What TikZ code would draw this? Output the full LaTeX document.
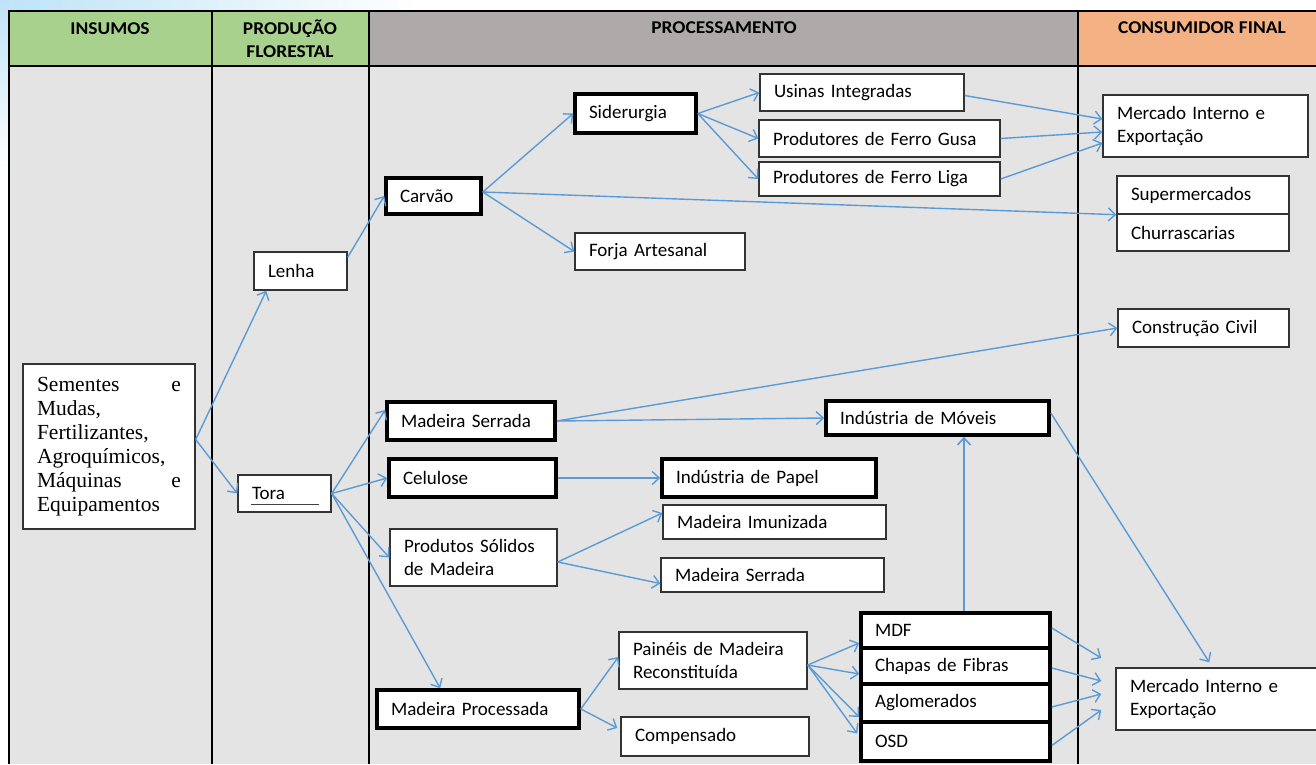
\documentclass[tikz,border=0pt]{standalone}
\usepackage{fontspec}
\setmainfont{Carlito}
\newfontfamily\tnr{Liberation Serif}
\newfontfamily\hdrfont[FakeStretch=1.08]{Carlito}
\usetikzlibrary{arrows.meta}
\definecolor{hdrgreen}{HTML}{A9D18E}
\definecolor{hdrgray}{HTML}{AEAAAA}
\definecolor{hdrorange}{HTML}{F4B183}
\definecolor{bodygray}{HTML}{E4E4E4}
\definecolor{arrblue}{HTML}{5B9BD5}
\definecolor{skyblue}{HTML}{BEE3F8}

% box: name, style, x1, y1, x2, y2, text (coordinates in px, y downwards)
\newcommand{\bx}[7]{%
  \pgfmathsetmacro\bxw{#5-#3}%
  \pgfmathsetmacro\bxh{#6-#4}%
  \pgfmathsetmacro\bxcx{(#3+#5)/2}%
  \pgfmathsetmacro\bxcy{(#4+#6)/2}%
  \pgfmathsetmacro\bxtw{#5-#3-28}%
  \node[#2, minimum width=\bxw pt, minimum height=\bxh pt, text width=\bxtw pt] (#1) at (\bxcx,\bxcy) {#7};}

\begin{document}
\begin{tikzpicture}[x=1pt,y=-1pt,
  every node/.style={font=\fontsize{19}{23.5}\selectfont},
  thinbox/.style={draw=black!80, line width=1.4pt, fill=white, inner xsep=14pt, inner ysep=0pt, align=left},
  thickbox/.style={thinbox, draw=black, line width=3.6pt},
  serifbox/.style={thinbox, font=\tnr\fontsize{21.5}{24}\selectfont},
  hdr/.style={font=\hdrfont\bfseries\fontsize{18}{21}\selectfont, inner sep=0pt, anchor=base},
  rule/.style={draw=black, line width=1.9pt},
  arr/.style={draw=arrblue, line width=1.4pt, -{Straight Barb[length=7pt,width=13pt]}}]

\useasboundingbox (0,0) rectangle (1316,764);
\clip (0,0) rectangle (1316,764);

% backdrop
\fill[white] (0,0) rectangle (1316,764);
\shade[left color=skyblue, right color=white] (0,0) rectangle (420,11);
\shade[top color=skyblue, bottom color=white] (0,0) rectangle (9,170);

% table
\fill[hdrgreen] (9,11) rectangle (369,66);
\fill[hdrgray] (369,11) rectangle (1078,66);
\fill[hdrorange] (1078,11) rectangle (1316,66);
\fill[bodygray] (9,66) rectangle (1316,764);
\draw[rule] (8,11) -- (1316,11);
\draw[rule] (9,66) -- (1316,66);
\foreach \cx in {9,212,369,1078} \draw[rule] (\cx,11) -- (\cx,764);

% column headings
\node[hdr] (hIns) at (110,34) {INSUMOS};
\node[hdr] (hProdA) at (290,34) {PRODUÇÃO};
\node[hdr] (hProdB) at (290,57) {FLORESTAL};
\node[hdr] (hProc) at (724,33) {PROCESSAMENTO};
\node[hdr] (hCons) at (1202,33) {CONSUMIDOR FINAL};

% inputs and forest production
\bx{sem}{serifbox}{23}{364}{195}{529}{Sementes\hfill e\\Mudas,\\Fertilizantes,\\Agroquímicos,\\Máquinas\hfill e\\Equipamentos}
\bx{lenha}{thinbox}{254}{252}{347}{290}{Lenha}
\bx{tora}{thinbox}{238}{475}{331}{512}{Tora}
\draw[line width=0.9pt, black!75] ([xshift=14pt,yshift=8.5pt]tora.south west) -- ([xshift=-13pt,yshift=8.5pt]tora.south east);

% processing
\bx{carvao}{thickbox}{386}{178}{481}{214}{Carvão}
\bx{sider}{thickbox}{575}{94}{696}{133}{Siderurgia}
\bx{usinas}{thinbox}{760}{74}{964}{111}{Usinas Integradas}
\bx{gusa}{thinbox}{759}{120}{1000}{157}{Produtores de Ferro Gusa}
\bx{liga}{thinbox}{759}{162}{1000}{196}{Produtores de Ferro Liga}
\bx{forja}{thinbox}{575}{233}{745}{270}{Forja Artesanal}
\bx{mserr}{thickbox}{387}{402}{555}{440}{Madeira Serrada}
\bx{moveis}{thickbox}{826}{401}{1049}{435}{Indústria de Móveis}
\bx{celul}{thickbox}{389}{459}{556}{497}{Celulose}
\bx{papel}{thickbox}{662}{459}{876}{497}{Indústria de Papel}
\bx{imun}{thinbox}{663}{505}{886}{539}{Madeira Imunizada}
\bx{mserr2}{thinbox}{661}{558}{884}{592}{Madeira Serrada}
\bx{prods}{thinbox}{390}{529}{557}{586}{Produtos Sólidos\\de Madeira}
\bx{mproc}{thickbox}{377}{690}{579}{728}{Madeira Processada}
\bx{paineis}{thinbox}{619}{632}{807}{689}{Painéis de Madeira\\Reconstituída}
\bx{comp}{thinbox}{621}{717}{809}{756}{Compensado}
\bx{mdf}{thickbox}{861}{613}{1050}{648}{MDF}
\bx{chapas}{thickbox}{861}{648}{1050}{684}{Chapas de Fibras}
\bx{aglom}{thickbox}{861}{684}{1050}{722}{Aglomerados}
\bx{osd}{thickbox}{861}{722}{1050}{761}{OSD}

% final consumers
\bx{merc1}{thinbox}{1103}{95}{1308}{157}{Mercado Interno e\\Exportação}
\bx{super}{thinbox}{1117}{176}{1289}{214}{Supermercados}
\bx{churr}{thinbox}{1117}{214}{1289}{251}{Churrascarias}
\bx{constr}{thinbox}{1118}{309}{1289}{347}{Construção Civil}
\bx{merc2}{thinbox}{1116}{668}{1320}{730}{Mercado Interno e\\Exportação}

% flows
\draw[arr] ([yshift=7pt]sem.east) -- ([xshift=13pt]lenha.south west);
\draw[arr] ([yshift=7pt]sem.east) -- (tora.west);
\draw[arr] ([yshift=-6pt]lenha.north east) -- (carvao.west);
\draw[arr] ([yshift=4pt]carvao.east) -- (sider.west);
\draw[arr] ([yshift=4pt]carvao.east) -- (forja.west);
\draw[arr] ([yshift=4pt]carvao.east) -- (super.south west);
\draw[arr] (sider.east) -- (usinas.west);
\draw[arr] (sider.east) -- (gusa.west);
\draw[arr] (sider.east) -- (liga.west);
\draw[arr] ([yshift=-3pt]usinas.east) -- ([yshift=7pt]merc1.west);
\draw[arr] (gusa.east) -- ([yshift=-6pt]merc1.west);
\draw[arr] (liga.east) -- ([yshift=-17pt]merc1.west);
\draw[arr] (tora.east) -- ([yshift=11pt]mserr.west);
\draw[arr] (tora.east) -- (celul.west);
\draw[arr] (tora.east) -- (prods.west);
\draw[arr] (tora.east) -- ([xshift=65pt]mproc.north west);
\draw[arr] (mserr.east) -- (constr.west);
\draw[arr] (mserr.east) -- (moveis.west);
\draw[arr] ([yshift=5pt]moveis.east) -- ([xshift=94pt,yshift=5pt]merc2.north west);
\draw[arr] (celul.east) -- (papel.west);
\draw[arr] ([yshift=-4.5pt]prods.east) -- ([yshift=9pt]imun.west);
\draw[arr] ([yshift=-4.5pt]prods.east) -- ([yshift=-8.5pt]mserr2.west);
\draw[arr, line width=1.6pt] ([xshift=8.5pt]mdf.north) -- ([xshift=8.5pt]mdf.north |- moveis.south);
\draw[arr] (mproc.east) -- ([yshift=3.5pt]paineis.west);
\draw[arr] (mproc.east) -- ([xshift=-3pt,yshift=8.5pt]comp.west);
\draw[arr] ([yshift=-4.5pt]paineis.east) -- ([yshift=-12.5pt]mdf.west);
\draw[arr] ([yshift=-4.5pt]paineis.east) -- ([yshift=-8pt]chapas.west);
\draw[arr] ([yshift=-4.5pt]paineis.east) -- ([yshift=-14pt]aglom.west);
\draw[arr] ([yshift=-4.5pt]paineis.east) -- ([xshift=-2pt,yshift=8pt]osd.west);
\draw[arr] ([yshift=2.5pt]mdf.east) -- ([xshift=-14pt,yshift=41pt]merc2.west);
\draw[arr] ([yshift=-2pt]chapas.east) -- ([xshift=-14pt,yshift=18pt]merc2.west);
\draw[arr] ([yshift=-4pt]aglom.east) -- ([xshift=-14pt,yshift=5pt]merc2.west);
\draw[arr] ([yshift=-4pt]osd.east) -- ([xshift=-14pt,yshift=-11pt]merc2.west);
\end{tikzpicture}
\end{document}
